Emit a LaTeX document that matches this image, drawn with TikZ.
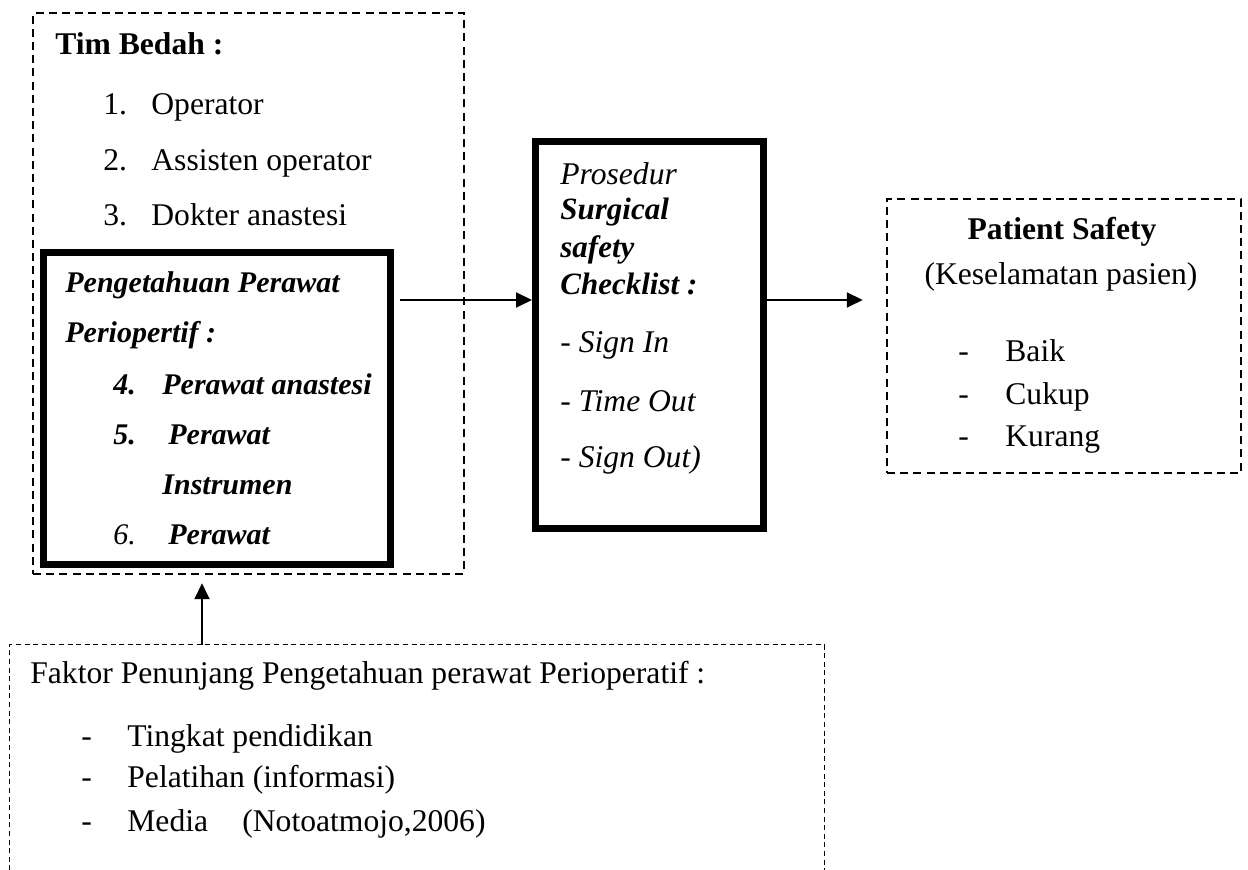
\documentclass[tikz,border=0pt]{standalone}
\usepackage{fontspec}
\setmainfont{Liberation Serif}
\usetikzlibrary{arrows.meta,fit}
\begin{document}
\begin{tikzpicture}[x=0.5pt,y=-0.5pt,
  dashbox/.style={draw, line width=1.25pt, dash pattern=on 4pt off 2.6pt, inner sep=0pt},
  thickbox/.style={draw, line width=3.5pt, inner sep=0pt},
  dotline/.style={line width=0.6pt, dash pattern=on 2.5pt off 1.8pt},
  arr/.style={line width=1pt, -{Triangle[length=8pt,width=7.5pt]}},
  txt/.style={anchor=base west, inner sep=0pt, font=\fontsize{15.8}{19}\selectfont},
  ctxt/.style={anchor=base, inner sep=0pt, font=\fontsize{15.8}{19}\selectfont},
  bitxt/.style={anchor=base west, inner sep=0pt, font=\fontsize{15}{18}\selectfont\bfseries\itshape},
]
\useasboundingbox (0,0) rectangle (1248,870);

% boxes
\node[dashbox, fit={(33,13) (464,574)}] (tim) {};
\node[thickbox, fit={(43.5,252.5) (390.5,564.5)}] (peng) {};
\node[thickbox, fit={(535.5,141.5) (763.5,528.5)}] (check) {};
\node[dashbox, fit={(887,199) (1241,473)}] (pat) {};
\node[inner sep=0pt, fit={(10,645) (824,870)}] (fak) {};
\draw[dotline] (fak.south west) -- (fak.north west) -- (fak.north east) -- (fak.south east);

% Tim Bedah texts
\node[txt, font=\fontsize{15.8}{19}\selectfont\bfseries] (t0) at (55,55) {Tim Bedah :};
\node[txt] (n1) at (103,115) {1.};
\node[txt] (o1) at (151,115) {Operator};
\node[txt] (n2) at (103,171) {2.};
\node[txt] (o2) at (151,171) {Assisten operator};
\node[txt] (n3) at (103,226) {3.};
\node[txt] (o3) at (151,226) {Dokter anastesi};

% Pengetahuan texts
\node[bitxt] (p1) at (65,293) {Pengetahuan Perawat};
\node[bitxt] (p2) at (65,343) {Periopertif :};
\node[bitxt] (n4) at (113,395) {4.};
\node[bitxt] (p4) at (162,395) {Perawat anastesi};
\node[bitxt] (n5) at (113,445) {5.};
\node[bitxt] (p5) at (168,445) {Perawat};
\node[bitxt] (p5b) at (162,495) {Instrumen};
\node[bitxt, font=\fontsize{15}{18}\selectfont\itshape] (n6) at (113,545) {6.};
\node[bitxt] (p6) at (168,545) {Perawat};

% Checklist texts
\node[txt, font=\fontsize{15.8}{19}\selectfont\itshape] (c1) at (560,185) {Prosedur};
\node[bitxt, font=\fontsize{15.5}{18}\selectfont\bfseries\itshape] (c2) at (560,220) {Surgical};
\node[bitxt, font=\fontsize{15.5}{18}\selectfont\bfseries\itshape] (c3) at (560,258) {safety};
\node[bitxt, font=\fontsize{15.5}{18}\selectfont\bfseries\itshape] (c4) at (560,295) {Checklist :};
\node[txt, font=\fontsize{15.8}{19}\selectfont\itshape] (c5) at (560,353) {- Sign In};
\node[txt, font=\fontsize{15.8}{19}\selectfont\itshape] (c6) at (560,412) {- Time Out};
\node[txt, font=\fontsize{15.8}{19}\selectfont\itshape] (c7) at (560,468) {- Sign Out)};

% Patient texts
\node[ctxt, font=\fontsize{15.8}{19}\selectfont\bfseries] (s1) at (1062,240) {Patient Safety};
\node[ctxt] (s2) at (1061,285) {(Keselamatan pasien)};
\node[txt] (d1) at (958,362) {-};
\node[txt] (s3) at (1005,362) {Baik};
\node[txt] (d2) at (958,405) {-};
\node[txt] (s4) at (1005,405) {Cukup};
\node[txt] (d3) at (958,447) {-};
\node[txt] (s5) at (1005,447) {Kurang};

% Faktor texts
\node[txt] (f0) at (30,684) {Faktor Penunjang Pengetahuan perawat Perioperatif :};
\node[txt] (e1) at (81,747) {-};
\node[txt] (f1) at (127,747) {Tingkat pendidikan};
\node[txt] (e2) at (81,788) {-};
\node[txt] (f2) at (127,788) {Pelatihan (informasi)};
\node[txt] (e3) at (81,832) {-};
\node[txt] (f3) at (127,832) {Media};
\node[txt] (f4) at (242,832) {(Notoatmojo,2006)};

% arrows
\coordinate (ya) at (0,300);
\coordinate (xb) at (202,0);
\draw[arr, shorten <=3pt] (peng.east |- ya) -- (check.west |- ya);
\draw[arr, shorten >=11.5pt] (check.east |- ya) -- (pat.west |- ya);
\draw[arr, shorten >=4pt] (fak.north -| xb) -- (tim.south -| xb);
\end{tikzpicture}
\end{document}
